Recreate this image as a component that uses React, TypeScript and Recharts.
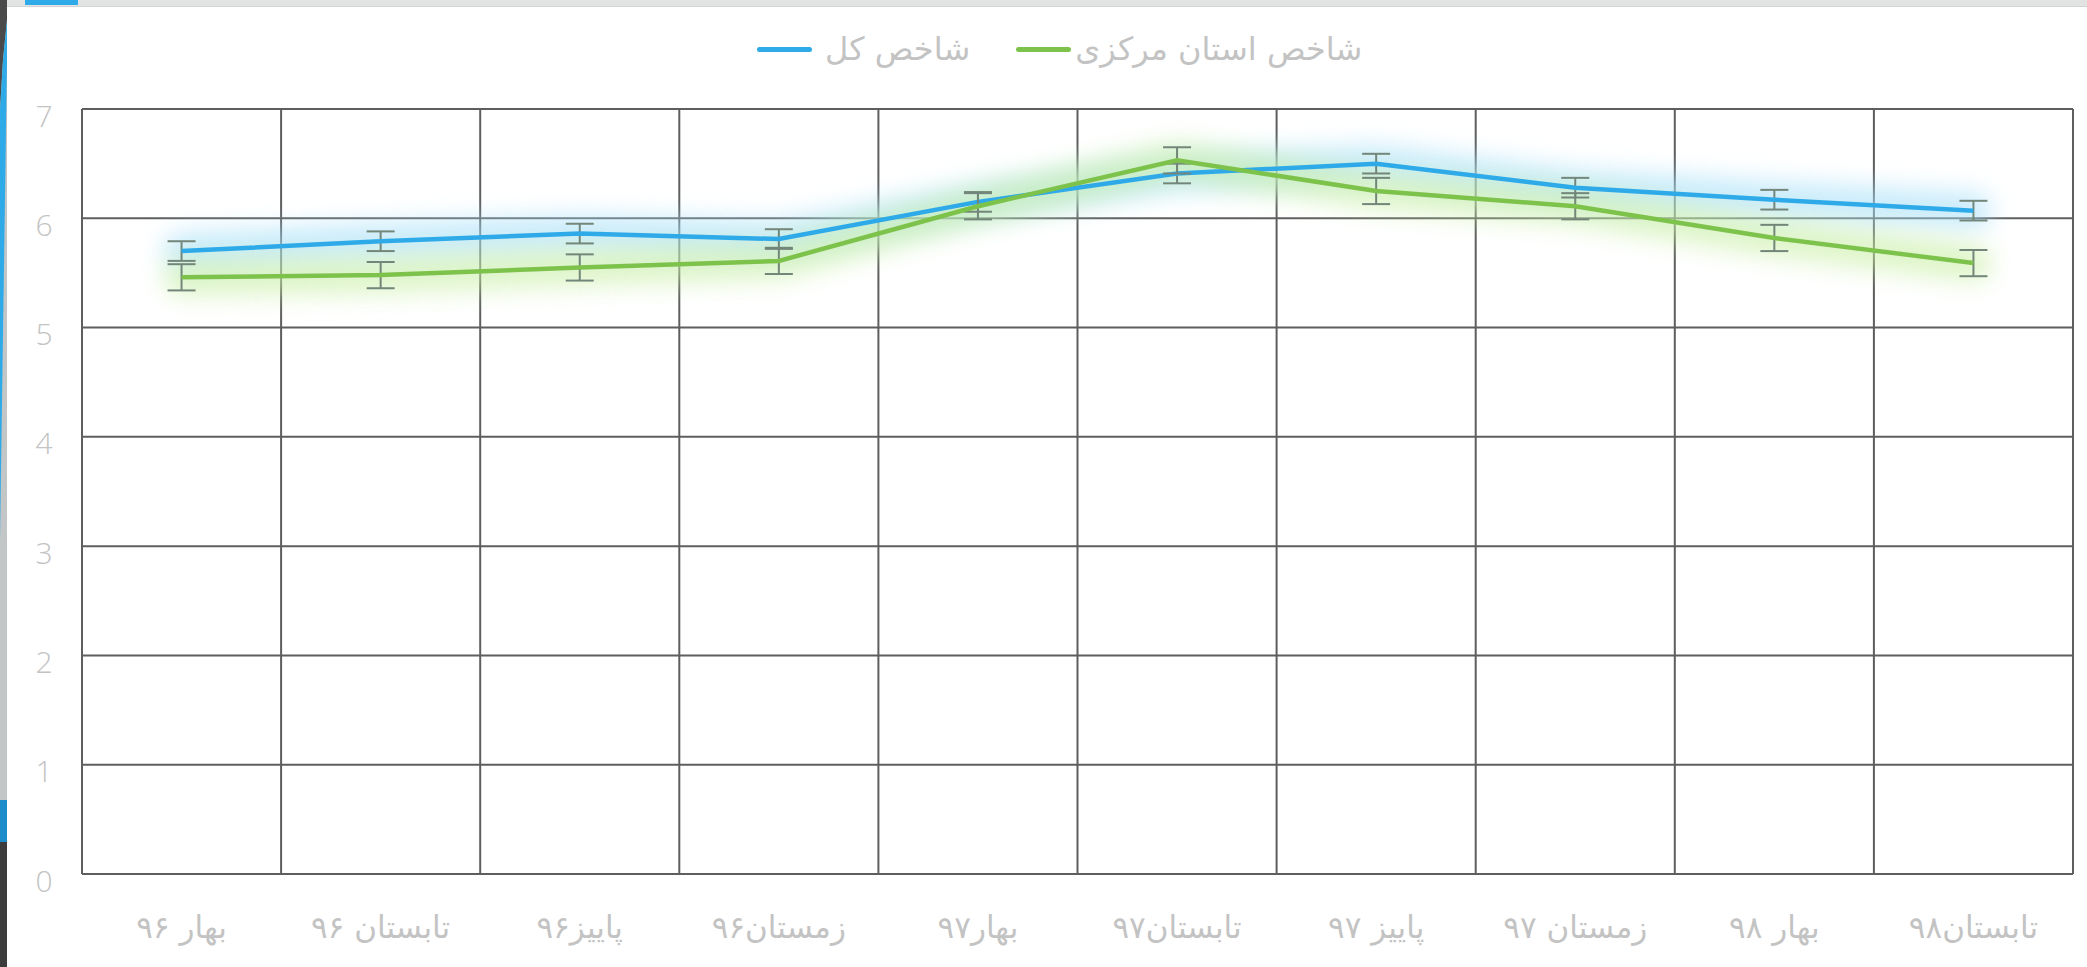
import React from 'react';
import { LineChart, Line, XAxis, YAxis, CartesianGrid, ErrorBar, Legend } from 'recharts';

// fasl-ha (quarters) and the two index series
const categories = [
  'بهار ۹۶', 'تابستان ۹۶', 'پاییز۹۶', 'زمستان۹۶', 'بهار۹۷',
  'تابستان۹۷', 'پاییز ۹۷', 'زمستان ۹۷', 'بهار ۹۸', 'تابستان۹۸',
];
const shakhesKol = [5.70, 5.79, 5.86, 5.81, 6.15, 6.41, 6.50, 6.28, 6.17, 6.07];
const shakhesMarkazi = [5.46, 5.48, 5.55, 5.61, 6.11, 6.53, 6.25, 6.11, 5.82, 5.59];
const kolErr = [0.09, 0.09, 0.09, 0.09, 0.09, 0.09, 0.09, 0.09, 0.09, 0.09];
const markaziErr = [0.12, 0.12, 0.12, 0.12, 0.12, 0.12, 0.12, 0.12, 0.12, 0.12];
const yTicks = [0, 1, 2, 3, 4, 5, 6, 7];

const legendItems = [
  { label: 'شاخص کل', color: '#2EAAE9' },
  { label: 'شاخص استان مرکزی', color: '#7DC24B' },
];

const W = 2087;
const H = 967;
const BLUE = '#2EAAE9';
const GREEN = '#7DC24B';
const GRID = '#5e5e5e';
const ERR = '#73867a';
const LABEL = '#c3c3c3';
const FA_FONT = '"DejaVu Sans", sans-serif';

const data = categories.map((name, i) => ({
  name,
  kol: shakhesKol[i],
  markazi: shakhesMarkazi[i],
  kolErr: kolErr[i],
  markaziErr: markaziErr[i],
}));

const XTick = ({ x, y, payload }: any) => (
  <text x={x} y={y} dy={45} textAnchor="middle" dominantBaseline="central"
    fill={LABEL} fontSize={31} fontFamily={FA_FONT}>
    {payload.value}
  </text>
);

const YTick = ({ x, y, payload }: any) => (
  <text x={x - 30} y={y} dy={6} textAnchor="middle" dominantBaseline="central"
    fill={LABEL} fontSize={30} fontWeight={300} fontFamily='"Open Sans", sans-serif'>
    {payload.value}
  </text>
);

const LegendContent = () => (
  <div style={{ display: 'flex', alignItems: 'center', height: 50 }}>
    {legendItems.map((it, i) => (
      <div key={it.label} style={{ display: 'flex', alignItems: 'center', marginLeft: i ? 46 : 0 }}>
        <span style={{ width: 55, height: 5, borderRadius: 3, background: it.color, display: 'inline-block' }} />
        <span style={{ marginLeft: i ? 4 : 13, fontFamily: FA_FONT, fontSize: 32, color: LABEL, whiteSpace: 'nowrap' }}>
          {it.label}
        </span>
      </div>
    ))}
  </div>
);

// screenshot edge bits around the chart
const Frame = () => (
  <svg width={W} height={H} style={{ position: 'absolute', left: 0, top: 0, pointerEvents: 'none' }}>
    <rect x={0} y={0} width={W} height={6} fill="#e2e4e4" />
    <rect x={0} y={6} width={W} height={1} fill="#d2d4d4" />
    <rect x={25} y={0} width={53} height={5} fill={BLUE} />
    <rect x={0} y={0} width={7} height={H} fill="#c3c6c7" />
    <polygon points="0,0 7,0 7,20 3,60 0,110" fill="#4a4a4a" />
    <polygon points="0,110 3,60 7,20 7,60 0,540" fill={BLUE} />
    <rect x={0} y={800} width={7} height={42} fill="#1b8bc9" />
    <rect x={0} y={842} width={7} height={H - 842} fill="#3c3c3c" />
  </svg>
);

export default function App() {
  const verticalLines = ({ offset }: any) =>
    categories.map((_, i) => offset.left + (offset.width * i) / categories.length)
      .concat(offset.left + offset.width);

  return (
    <div style={{ position: 'relative', width: W, height: H, background: '#fff', overflow: 'hidden' }}>
      <style>{'body{margin:0}'}</style>
      <LineChart width={W} height={H} data={data} margin={{ top: 109, right: 14, bottom: 0, left: 0 }}>
        <defs>
          <filter id="glow" x="-20%" y="-300%" width="140%" height="700%">
            <feGaussianBlur stdDeviation="12" />
          </filter>
        </defs>
        <CartesianGrid stroke={GRID} strokeWidth={2} verticalCoordinatesGenerator={verticalLines} />
        <XAxis dataKey="name" scale="band" axisLine={false} tickLine={false} height={93}
          interval={0} tick={<XTick />} />
        <YAxis domain={[0, 7]} ticks={yTicks} axisLine={false} tickLine={false} width={82}
          interval={0} tick={<YTick />} />
        <Legend verticalAlign="middle" wrapperStyle={{ top: 24, left: 757, width: 'auto' }}
          content={<LegendContent />} />
        <Line dataKey="kol" stroke="#a3def8" strokeWidth={36} strokeLinecap="round" opacity={0.6}
          filter="url(#glow)" dot={false} activeDot={false} isAnimationActive={false} legendType="none" />
        <Line dataKey="markazi" stroke="#c6eea0" strokeWidth={36} strokeLinecap="round" opacity={0.6}
          filter="url(#glow)" dot={false} activeDot={false} isAnimationActive={false} legendType="none" />
        <Line dataKey="kol" stroke={BLUE} strokeWidth={4.5} dot={false} activeDot={false} isAnimationActive={false}>
          <ErrorBar dataKey="kolErr" width={14} stroke={ERR} strokeWidth={2} isAnimationActive={false} />
        </Line>
        <Line dataKey="markazi" stroke={GREEN} strokeWidth={4.5} dot={false} activeDot={false} isAnimationActive={false}>
          <ErrorBar dataKey="markaziErr" width={14} stroke={ERR} strokeWidth={2} isAnimationActive={false} />
        </Line>
      </LineChart>
      <Frame />
    </div>
  );
}
